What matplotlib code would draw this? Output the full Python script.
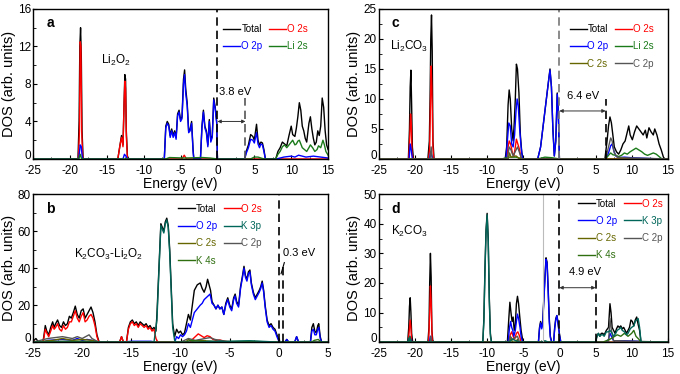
import matplotlib
matplotlib.use("Agg")
import matplotlib.pyplot as plt
import matplotlib.transforms as mtransforms
from matplotlib.ticker import AutoMinorLocator

plt.rcParams['font.family'] = ['Liberation Sans', 'DejaVu Sans']
plt.rcParams['mathtext.default'] = 'regular'
plt.rcParams['axes.unicode_minus'] = False

# ---- colours ----
COL = {'Total': 'black', 'O 2s': 'red', 'O 2p': 'blue', 'Li 2s': '#1a7a1a',
       'K 3p': '#00665a', 'C 2s': '#666600', 'C 2p': '#555555', 'K 4s': '#2f6f10'}

# ---- panel a: Li2O2 (energy, DOS) ----
A_TOTAL = [(-25, 0), (-18.9, 0), (-18.75, 4), (-18.65, 12), (-18.55, 14), (-18.45, 11), (-18.35, 3), (-18.2, 0),
           (-13.5, 0), (-13.2, 1.5), (-13.0, 2.5), (-12.8, 1.5), (-12.65, 6), (-12.55, 9), (-12.45, 8.5), (-12.35, 3), (-12.2, 0.3), (-12.0, 0),
           (-7.2, 0), (-7.0, 3.5), (-6.8, 4.0), (-6.6, 3.7), (-6.4, 2.5), (-6.2, 3.2), (-6.0, 2.5), (-5.8, 3.0), (-5.6, 2.3), (-5.4, 4.8),
           (-5.2, 5.2), (-5.0, 4.2), (-4.8, 4.5), (-4.6, 8.5), (-4.45, 9.5), (-4.3, 7.5), (-4.1, 6.0), (-3.9, 3.0), (-3.7, 3.2), (-3.5, 4.0),
           (-3.3, 1.0), (-3.2, 0), (-2.3, 0), (-2.1, 3.5), (-1.9, 5.2), (-1.7, 3.5), (-1.5, 3.0), (-1.3, 1.5), (-1.1, 4.2), (-0.9, 2.0),
           (-0.7, 2.5), (-0.5, 6.5), (-0.3, 5.5), (-0.1, 4.0), (0.0, 0),
           (3.7, 0), (3.9, 0.8), (4.2, 1.5), (4.5, 2.6), (4.8, 2.4), (5.0, 2.0), (5.3, 3.7), (5.5, 2.0), (5.7, 1.5), (5.9, 1.8), (6.1, 1.7),
           (6.3, 1.0), (6.5, 0), (7.9, 0), (8.2, 0.8), (8.5, 1.2), (8.8, 1.8), (9.1, 1.6), (9.4, 1.4), (9.7, 2.5), (10.0, 3.5), (10.2, 2.6),
           (10.5, 2.4), (10.7, 3.3), (10.9, 4.5), (11.1, 6.0), (11.3, 5.2), (11.5, 3.5), (11.7, 3.0), (11.9, 2.2), (12.1, 1.8), (12.4, 3.8),
           (12.6, 4.5), (12.8, 3.2), (13.0, 2.2), (13.2, 1.5), (13.4, 1.8), (13.6, 3.0), (13.8, 2.5), (14.0, 3.5), (14.2, 6.5), (14.4, 5.5),
           (14.6, 3.0), (14.8, 1.5), (15.0, 1.0)]
A_O2S = [(-25, 0), (-18.85, 0), (-18.7, 3), (-18.6, 12.5), (-18.5, 12), (-18.4, 3), (-18.25, 0), (-13.5, 0), (-13.2, 1.5),
         (-13.0, 2.3), (-12.8, 1.3), (-12.65, 6), (-12.55, 8.3), (-12.45, 7.5), (-12.35, 2.5), (-12.2, 0), (-4.8, 0), (-4.5, 0.4),
         (-4.2, 0), (15, 0)]
A_O2P = [(-25, 0), (-18.8, 0), (-18.6, 1.5), (-18.45, 1.3), (-18.3, 0), (-12.8, 0), (-12.6, 0.5), (-12.4, 0.3), (-12.2, 0),
         (-7.2, 0), (-7.0, 3.3), (-6.8, 3.8), (-6.6, 3.5), (-6.4, 2.3), (-6.2, 3.0), (-6.0, 2.3), (-5.8, 2.8), (-5.6, 2.1), (-5.4, 4.6),
         (-5.2, 5.0), (-5.0, 4.0), (-4.8, 4.3), (-4.6, 8.0), (-4.45, 9.0), (-4.3, 7.0), (-4.1, 5.7), (-3.9, 2.8), (-3.7, 3.0), (-3.5, 3.8),
         (-3.3, 0.8), (-3.2, 0), (-2.3, 0), (-2.1, 3.3), (-1.9, 5.0), (-1.7, 3.3), (-1.5, 2.8), (-1.3, 1.3), (-1.1, 4.0), (-0.9, 1.8),
         (-0.7, 2.3), (-0.5, 6.3), (-0.3, 5.3), (-0.1, 3.8), (0.0, 0),
         (3.7, 0), (3.9, 0.6), (4.2, 1.2), (4.5, 2.1), (4.8, 2.0), (5.0, 1.7), (5.3, 2.8), (5.5, 1.6), (5.7, 1.2), (5.9, 1.6), (6.1, 1.5),
         (6.3, 0.8), (6.5, 0), (8, 0), (9, 0.2), (10, 0.3), (10.5, 0.2), (11, 0.4), (12, 0.2), (13, 0.3), (14, 0.2), (15, 0.1)]
A_LI2S = [(-25, 0), (-18.8, 0), (-18.6, 0.5), (-18.4, 0), (-7, 0), (-6.5, 0.15), (-4.5, 0.1), (-2, 0.15), (-1, 0.1), (0, 0),
          (4.5, 0), (5, 0.2), (5.5, 0.2), (6.3, 0), (7.9, 0), (8.2, 0.5), (8.5, 0.8), (8.8, 1.3), (9.1, 1.5), (9.4, 1.2), (9.7, 1.5),
          (10.0, 1.8), (10.2, 2.0), (10.5, 1.5), (10.7, 1.6), (10.9, 1.9), (11.1, 2.0), (11.3, 1.6), (11.5, 1.2), (11.8, 1.0),
          (12.1, 0.8), (12.4, 1.2), (12.6, 1.5), (12.9, 1.2), (13.2, 0.8), (13.5, 1.0), (13.7, 1.4), (14.0, 1.2), (14.3, 2.0),
          (14.5, 1.5), (14.7, 0.8), (15.0, 0.4)]

# ---- panel c: Li2CO3 ----
C_TOTAL = [(-25, 0), (-20.9, 0), (-20.75, 5), (-20.65, 12), (-20.55, 14.8), (-20.45, 9), (-20.35, 2), (-20.2, 0),
           (-18.2, 0), (-18.0, 3), (-17.9, 10), (-17.8, 20), (-17.7, 24), (-17.6, 18), (-17.5, 3), (-17.35, 0),
           (-7.5, 0), (-7.3, 2), (-7.1, 9), (-6.95, 11.5), (-6.8, 10), (-6.6, 5), (-6.4, 3), (-6.25, 6), (-6.1, 10), (-5.95, 15.8),
           (-5.8, 15), (-5.6, 11), (-5.4, 4), (-5.2, 1), (-5.0, 0),
           (-3.0, 0), (-2.6, 2), (-2.3, 5), (-2.0, 8), (-1.7, 11), (-1.5, 13), (-1.3, 15), (-1.1, 12), (-0.9, 5), (-0.7, 0.5),
           (-0.5, 3), (-0.3, 11), (-0.15, 8), (0.0, 0),
           (6.3, 0), (6.6, 3), (6.8, 5.5), (7.0, 7.0), (7.2, 6), (7.4, 4), (7.6, 2), (7.9, 1.2), (8.2, 0.8), (8.5, 1.5), (8.8, 2.5),
           (9.1, 3), (9.4, 4.5), (9.6, 5.5), (9.8, 4.0), (10.1, 3.2), (10.4, 4.5), (10.7, 5.5), (11.0, 5.0), (11.3, 4.5), (11.6, 4.0),
           (11.9, 4.8), (12.1, 3.5), (12.4, 5.2), (12.7, 4.5), (13.0, 4.0), (13.2, 5.0), (13.5, 4.0), (13.8, 2.5), (14.1, 1.5),
           (14.4, 0.3), (14.6, 0), (15, 0)]
C_O2S = [(-25, 0), (-20.85, 0), (-20.7, 4), (-20.6, 7.5), (-20.5, 6), (-20.4, 1), (-20.25, 0), (-18.1, 0), (-17.95, 2),
         (-17.85, 9), (-17.75, 15.5), (-17.65, 12), (-17.5, 2), (-17.4, 0), (-7.3, 0), (-7.1, 2), (-6.95, 3.0), (-6.75, 2.5),
         (-6.5, 1), (-6.3, 0.5), (-6.1, 2), (-5.95, 3.3), (-5.75, 2.5), (-5.5, 1.5), (-5.3, 0), (15, 0)]
C_O2P = [(-25, 0), (-20.8, 0), (-20.65, 2.5), (-20.5, 1.5), (-20.35, 0), (-18, 0), (-17.8, 1.2), (-17.65, 0.5), (-17.5, 0),
         (-7.4, 0), (-7.2, 3), (-7.0, 6), (-6.8, 5.5), (-6.6, 2.5), (-6.4, 2.0), (-6.2, 4), (-6.0, 8), (-5.85, 10), (-5.7, 9),
         (-5.5, 5), (-5.3, 2), (-5.1, 0),
         (-3.0, 0), (-2.6, 2), (-2.3, 5), (-2.0, 8), (-1.7, 11), (-1.5, 13), (-1.3, 14.8), (-1.1, 12), (-0.9, 5), (-0.7, 0.5),
         (-0.5, 3), (-0.3, 10.8), (-0.15, 8), (0.0, 0),
         (6.4, 0), (6.8, 1.0), (7.1, 2.2), (7.3, 2.5), (7.5, 1.5), (7.8, 0.5), (8.2, 0.2), (9, 0.3), (10, 0.2), (12, 0.1), (14, 0), (15, 0)]
C_LI2S = [(-25, 0), (-8, 0), (-7, 0.3), (-6, 0.3), (-5, 0), (-3, 0), (-2, 0.3), (-1, 0.2), (0, 0),
          (6.4, 0), (6.8, 0.6), (7.1, 1.0), (7.4, 0.7), (7.8, 0.6), (8.2, 0.4), (8.6, 0.6), (9.0, 1.0), (9.4, 0.8), (9.8, 1.2),
          (10.2, 1.5), (10.6, 1.8), (11.0, 1.5), (11.4, 1.2), (11.8, 0.8), (12.2, 0.6), (12.6, 0.8), (13.0, 1.0), (13.4, 0.8),
          (13.8, 0.4), (14.2, 0), (15, 0)]
C_C2S = [(-25, 0), (-7.1, 0), (-6.9, 1), (-6.7, 0.3), (-6, 0.5), (-5.5, 0), (15, 0)]
C_C2P = [(-25, 0), (-17.9, 0), (-17.75, 2), (-17.6, 0), (-7.2, 0), (-6.95, 2), (-6.7, 1.5), (-6.4, 0.5), (-6.0, 1.5),
         (-5.8, 2), (-5.5, 1), (-5.2, 0), (6.4, 0), (6.8, 2), (7.1, 3.5), (7.3, 3), (7.6, 1), (8, 0.3), (9, 0.2), (15, 0)]

# ---- panel b: K2CO3-Li2O2 ----
B_TOTAL = [(-25, 0), (-24.9, 1), (-24.7, 2), (-24.5, 0.5), (-24.0, 0), (-23.9, 3), (-23.75, 9), (-23.6, 6), (-23.4, 4),
           (-23.2, 8), (-23.0, 11), (-22.85, 8), (-22.7, 10), (-22.5, 12), (-22.3, 9), (-22.1, 8), (-21.9, 11), (-21.7, 9),
           (-21.5, 10), (-21.3, 14), (-21.1, 13), (-20.9, 16), (-20.7, 19.5), (-20.5, 15), (-20.3, 13), (-20.1, 17), (-19.9, 18),
           (-19.7, 13), (-19.5, 15), (-19.3, 17), (-19.1, 19), (-18.9, 16), (-18.7, 11), (-18.5, 4), (-18.3, 0.5), (-18.1, 0),
           (-16.2, 0), (-16.0, 3), (-15.8, 0), (-15.5, 0), (-15.3, 8), (-15.1, 11), (-14.9, 12), (-14.7, 10), (-14.5, 11),
           (-14.3, 9), (-14.1, 11), (-13.9, 10), (-13.7, 9), (-13.5, 10), (-13.3, 8), (-13.1, 9), (-12.9, 7), (-12.7, 8),
           (-12.5, 6), (-12.4, 15), (-12.2, 40), (-12.0, 64), (-11.85, 62), (-11.7, 60), (-11.55, 65), (-11.4, 67), (-11.25, 63),
           (-11.1, 50), (-10.95, 30), (-10.8, 10), (-10.6, 3), (-10.4, 7), (-10.2, 5), (-10.0, 6), (-9.8, 4), (-9.6, 5),
           (-9.4, 10), (-9.2, 15), (-9.0, 12), (-8.8, 20), (-8.6, 28), (-8.3, 31), (-8.0, 32), (-7.8, 29), (-7.6, 27), (-7.4, 30),
           (-7.25, 34), (-7.1, 31), (-6.95, 28), (-6.8, 22), (-6.6, 20), (-6.4, 18), (-6.2, 20), (-6.0, 18), (-5.8, 19),
           (-5.6, 15), (-5.4, 21), (-5.2, 24), (-5.0, 20), (-4.8, 18), (-4.6, 24), (-4.45, 26), (-4.3, 22), (-4.1, 20),
           (-3.9, 30), (-3.7, 36), (-3.55, 41), (-3.4, 36), (-3.25, 34), (-3.1, 38), (-2.95, 39), (-2.8, 32), (-2.6, 27),
           (-2.4, 24), (-2.2, 26), (-2.0, 28), (-1.85, 30), (-1.7, 33), (-1.55, 28), (-1.4, 20), (-1.2, 12), (-1.0, 9),
           (-0.8, 10), (-0.6, 8), (-0.4, 7), (-0.2, 4), (0.0, 1), (0.2, 0), (0.6, 0), (0.8, 1.5), (1.0, 0), (1.6, 0), (1.8, 3),
           (2.0, 0), (3.2, 0), (3.35, 8), (3.5, 10), (3.65, 6), (3.8, 5), (3.95, 9), (4.05, 10), (4.2, 3), (4.35, 0), (5, 0)]
B_O2S = [(-25, 0), (-24.9, 0.5), (-24.5, 0), (-24.0, 0), (-23.9, 2), (-23.75, 7), (-23.6, 5), (-23.4, 3), (-23.2, 6),
         (-23.0, 9), (-22.85, 7), (-22.7, 8), (-22.5, 10), (-22.3, 7), (-22.1, 6), (-21.9, 9), (-21.7, 7), (-21.5, 8),
         (-21.3, 11), (-21.1, 11), (-20.9, 14), (-20.7, 17), (-20.5, 13), (-20.3, 11), (-20.1, 14), (-19.9, 16), (-19.7, 11),
         (-19.5, 12), (-19.3, 14), (-19.1, 15), (-18.9, 13), (-18.7, 9), (-18.5, 3), (-18.3, 0), (-16.2, 0), (-16.0, 3),
         (-15.8, 0), (-15.5, 0), (-15.3, 7), (-15.1, 10), (-14.9, 11), (-14.7, 9), (-14.5, 10), (-14.3, 8), (-14.1, 10),
         (-13.9, 9), (-13.7, 8), (-13.5, 9), (-13.3, 7), (-13.1, 8), (-12.9, 6), (-12.7, 7), (-12.5, 2), (-12.3, 0),
         (-9.0, 0), (-8.8, 1.5), (-8.5, 3), (-8.2, 4.5), (-7.9, 3.5), (-7.6, 2.5), (-7.3, 3.5), (-7.0, 3.0), (-6.7, 1.5),
         (-6.4, 1.0), (-6.0, 1.2), (-5.5, 0.5), (-5, 0.3), (-4.5, 0), (5, 0)]
B_O2P = [(-25, 0), (-24, 0), (-23.5, 1), (-22, 1.5), (-21, 1), (-20.5, 2), (-20, 1), (-19.5, 1.5), (-19, 1), (-18.4, 0),
         (-16, 0), (-15, 0.5), (-13, 0.5), (-12.5, 0), (-10.6, 0), (-10.4, 3), (-10.2, 2), (-10.0, 4), (-9.8, 3), (-9.6, 4),
         (-9.4, 6), (-9.2, 10), (-9.0, 8), (-8.8, 12), (-8.6, 16), (-8.3, 18), (-8.0, 20), (-7.8, 21), (-7.6, 23), (-7.4, 24),
         (-7.2, 25), (-7.0, 26), (-6.8, 21), (-6.6, 20), (-6.4, 18), (-6.2, 20), (-6.0, 18), (-5.8, 19), (-5.6, 15), (-5.4, 20),
         (-5.2, 23), (-5.0, 19), (-4.8, 17), (-4.6, 23), (-4.45, 25), (-4.3, 21), (-4.1, 19), (-3.9, 29), (-3.7, 35),
         (-3.55, 40), (-3.4, 35), (-3.25, 33), (-3.1, 37), (-2.95, 38), (-2.8, 31), (-2.6, 26), (-2.4, 23), (-2.2, 25),
         (-2.0, 27), (-1.85, 29), (-1.7, 32), (-1.55, 27), (-1.4, 19), (-1.2, 11), (-1.0, 8), (-0.8, 9), (-0.6, 7), (-0.4, 6),
         (-0.2, 3), (0.0, 0.5), (0.2, 0), (0.6, 0), (0.8, 1.5), (1.0, 0), (1.6, 0), (1.8, 3), (2.0, 0), (3.2, 0), (3.35, 6),
         (3.5, 7), (3.65, 4), (3.8, 4), (3.95, 7), (4.05, 8), (4.2, 2), (4.35, 0), (5, 0)]
B_K3P = [(-25, 0), (-12.7, 0), (-12.4, 12), (-12.2, 38), (-12.0, 63), (-11.85, 61), (-11.7, 59), (-11.55, 64), (-11.4, 66),
         (-11.25, 62), (-11.1, 48), (-10.95, 28), (-10.8, 8), (-10.6, 1), (-10.4, 0), (-8, 0), (-7, 0.5), (-5, 0.5), (-3, 0.8),
         (-1, 0.3), (0, 0), (5, 0)]
B_C2S = [(-25, 0), (-23, 1), (-22, 2), (-21, 1), (-20, 1.5), (-19, 1), (-18.3, 0), (-9.5, 0), (-9.2, 1.5), (-8.8, 0.5),
         (-8, 1), (-7, 0.5), (-6, 0), (5, 0)]
B_C2P = [(-25, 0), (-23.5, 2), (-22, 3), (-21, 2), (-20.5, 3), (-20, 2), (-19.3, 4), (-19, 2), (-18.3, 0), (-10, 0),
         (-9.2, 2), (-8.5, 1), (-7.5, 2), (-7, 2.5), (-6.5, 1.5), (-6, 1), (-5.5, 0.5), (-5, 0), (5, 0)]
B_K4S = [(-25, 0), (-22, 0.5), (-20, 0.5), (-18.3, 0), (-9.5, 0), (-9, 1), (-8, 0.5), (-6, 0.3), (-3, 0.5), (0, 0),
         (3.3, 0), (3.6, 1), (4, 1.5), (4.3, 0), (5, 0)]

# ---- panel d: K2CO3 ----
D_TOTAL = [(-25, 0), (-21.0, 0), (-20.85, 5), (-20.75, 12), (-20.65, 15), (-20.55, 10), (-20.45, 3), (-20.3, 0),
           (-18.2, 0), (-18.05, 5), (-17.95, 20), (-17.85, 30), (-17.75, 22), (-17.65, 4), (-17.5, 0),
           (-10.6, 0), (-10.45, 8), (-10.3, 25), (-10.15, 38), (-10.0, 43.5), (-9.85, 35), (-9.7, 15), (-9.55, 3), (-9.4, 0),
           (-7.2, 0), (-7.0, 8), (-6.85, 13.5), (-6.7, 10), (-6.55, 7), (-6.4, 8.5), (-6.25, 4), (-6.1, 6), (-5.95, 13),
           (-5.8, 15.5), (-5.65, 13), (-5.5, 9), (-5.3, 4), (-5.1, 1), (-5.0, 0),
           (-2.9, 0), (-2.75, 5), (-2.6, 7), (-2.45, 5), (-2.3, 7), (-2.15, 15), (-2.0, 22), (-1.85, 28.5), (-1.7, 27),
           (-1.55, 18), (-1.4, 8), (-1.25, 2), (-1.05, 0), (-0.8, 0), (-0.65, 5), (-0.5, 8), (-0.35, 9), (-0.2, 7), (0.0, 3),
           (0.2, 0), (5.0, 0), (5.2, 2), (5.4, 3), (5.6, 2), (5.8, 3), (6.0, 3), (6.2, 2.5), (6.5, 4), (6.8, 5), (7.0, 13),
           (7.15, 10), (7.3, 5), (7.5, 4), (7.7, 3), (7.9, 4.5), (8.1, 5.5), (8.3, 5), (8.5, 5.5), (8.7, 4.5), (8.9, 5),
           (9.1, 4), (9.3, 3), (9.5, 4), (9.7, 5), (9.9, 7.5), (10.1, 7), (10.3, 5.5), (10.5, 7.5), (10.7, 8.5), (10.9, 6),
           (11.1, 4), (11.3, 0), (15, 0)]
D_O2S = [(-25, 0), (-20.9, 0), (-20.75, 5), (-20.65, 7.5), (-20.55, 5), (-20.45, 0), (-18.1, 0), (-17.95, 10),
         (-17.85, 19), (-17.75, 14), (-17.6, 0), (-7.0, 0), (-6.8, 2.5), (-6.6, 3.5), (-6.4, 2), (-6.2, 1), (-5.95, 3),
         (-5.75, 3.5), (-5.5, 2), (-5.3, 0), (15, 0)]
D_O2P = [(-25, 0), (-20.85, 0), (-20.7, 2), (-20.55, 1), (-20.4, 0), (-18.0, 0), (-17.85, 2), (-17.7, 0), (-7.1, 0),
         (-6.9, 5), (-6.75, 7), (-6.6, 5), (-6.45, 4), (-6.3, 2), (-6.1, 4), (-5.95, 7), (-5.8, 9.5), (-5.65, 8), (-5.45, 5),
         (-5.3, 2), (-5.1, 0), (-2.9, 0), (-2.75, 4.5), (-2.6, 6.5), (-2.45, 4.5), (-2.3, 6.5), (-2.15, 14), (-2.0, 21),
         (-1.85, 28), (-1.7, 26.5), (-1.55, 17), (-1.4, 7), (-1.25, 1.5), (-1.05, 0), (-0.8, 0), (-0.65, 4.5), (-0.5, 7.5),
         (-0.35, 9), (-0.2, 6.5), (0.0, 2.5), (0.2, 0), (6.5, 0), (6.8, 1), (7.0, 3), (7.2, 2), (7.5, 0.5), (9, 0.5),
         (11, 0.3), (11.3, 0), (15, 0)]
D_K3P = [(-25, 0), (-21, 0), (-20.8, 1.5), (-20.6, 0), (-10.6, 0), (-10.45, 7), (-10.3, 24), (-10.15, 37), (-10.0, 43),
         (-9.85, 34), (-9.7, 14), (-9.55, 2), (-9.4, 0), (-7, 0), (-6.5, 1), (-6, 0.5), (-5.5, 0), (-2.5, 0), (-2, 0.5),
         (-1.5, 0), (5.0, 0), (5.2, 2), (5.4, 3), (5.6, 2), (5.8, 2.5), (6.0, 2.5), (6.2, 2), (6.5, 3.5), (6.8, 3.5), (7.0, 4),
         (7.3, 3), (7.5, 2), (7.8, 3), (8.0, 4), (8.3, 4.5), (8.5, 5), (8.7, 4), (9.0, 3.5), (9.3, 2.5), (9.5, 3), (9.8, 4.5),
         (10.0, 5), (10.3, 5.5), (10.5, 7), (10.7, 7.5), (10.9, 8), (11.1, 5), (11.3, 0), (15, 0)]
D_C2S = [(-25, 0), (-6.9, 0), (-6.7, 1.5), (-6.5, 0), (-6, 0), (-5.8, 1), (-5.6, 0), (15, 0)]
D_C2P = [(-25, 0), (-17.9, 0), (-17.8, 2), (-17.7, 0), (-7, 0), (-6.8, 2), (-6.5, 1), (-5.8, 2), (-5.5, 0), (6.8, 0),
         (7.0, 8), (7.2, 4), (7.5, 0.5), (8, 0.5), (15, 0)]
D_K4S = [(-25, 0), (-20.8, 0), (-20.7, 2), (-20.5, 0), (6, 0), (7, 1), (8, 2.5), (8.5, 2), (9, 3), (9.5, 2), (10, 3),
         (10.3, 4), (10.6, 2), (11, 1), (11.3, 0), (15, 0)]

# band gaps and labels
GAP_LABELS = {'a': '3.8 eV', 'c': '6.4 eV', 'b': '0.3 eV', 'd': '4.9 eV'}

PANELS = [
    dict(tag='a', name='Li$_2$O$_2$', name_xy=(-15.8, 10.5), xlim=(-25, 15), ylim=(0, 16), yticks=[0, 4, 8, 12, 16],
         curves=[('Total', A_TOTAL), ('O 2s', A_O2S), ('O 2p', A_O2P), ('Li 2s', A_LI2S)],
         order=['Total', 'O 2p', 'O 2s', 'Li 2s'], leg=(0.645, 0.9),
         gap=3.8, gap_top=6.5, arrow_y=4.0, gap_txt=(0.2, 6.6), zero_col='black', gap_col='#555555'),
    dict(tag='c', name='Li$_2$CO$_3$', name_xy=(-23.5, 18.7), xlim=(-25, 15), ylim=(0, 25), yticks=[0, 5, 10, 15, 20, 25],
         curves=[('Total', C_TOTAL), ('O 2s', C_O2S), ('O 2p', C_O2P), ('Li 2s', C_LI2S), ('C 2s', C_C2S), ('C 2p', C_C2P)],
         order=['Total', 'O 2p', 'C 2s', 'O 2s', 'Li 2s', 'C 2p'], leg=(0.66, 0.9),
         gap=6.4, gap_top=10.0, arrow_y=8.0, gap_txt=(1.1, 9.6), zero_col='#777777', gap_col='black'),
    dict(tag='b', name='K$_2$CO$_3$-Li$_2$O$_2$', name_xy=(-20.8, 47.5), xlim=(-25, 5), ylim=(0, 80), yticks=[0, 20, 40, 60, 80],
         curves=[('Total', B_TOTAL), ('O 2s', B_O2S), ('O 2p', B_O2P), ('C 2s', B_C2S), ('C 2p', B_C2P), ('K 4s', B_K4S),
                 ('K 3p', B_K3P)],
         order=['Total', 'O 2p', 'C 2s', 'K 4s', 'O 2s', 'K 3p', 'C 2p'], leg=(0.49, 0.935),
         gap=0.4, gap_top=42, arrow_y=None, gap_txt=(0.42, 45.5), zero_col='black', gap_col='black'),
    dict(tag='d', name='K$_2$CO$_3$', name_xy=(-23.3, 37.5), xlim=(-25, 15), ylim=(0, 50), yticks=[0, 10, 20, 30, 40, 50],
         curves=[('Total', D_TOTAL), ('O 2s', D_O2S), ('O 2p', D_O2P), ('C 2s', D_C2S), ('C 2p', D_C2P), ('K 4s', D_K4S),
                 ('K 3p', D_K3P)],
         order=['Total', 'O 2p', 'C 2s', 'K 4s', 'O 2s', 'K 3p', 'C 2p'], leg=(0.69, 0.97),
         gap=5.0, gap_top=21.4, arrow_y=18.4, gap_txt=(1.36, 22.0), zero_col='black', gap_col='black'),
]
RECTS = {'a': [0.0485, 0.575, 0.434, 0.401], 'c': [0.557, 0.575, 0.425, 0.401],
         'b': [0.0485, 0.085, 0.434, 0.396], 'd': [0.557, 0.085, 0.425, 0.396]}

fig = plt.figure(figsize=(6.8, 3.74), dpi=100)
for P in PANELS:
    ax = fig.add_axes(RECTS[P['tag']])
    handles = {}
    for lab, pts in P['curves']:
        e = [p[0] for p in pts]
        d = [p[1] for p in pts]
        handles[lab], = ax.plot(e, d, color=COL[lab], lw=1.0, label=lab)
    if P['tag'] == 'd':
        ax.axvline(-2.3, color='#bbbbbb', lw=0.8)
    ax.axvline(0, color=P['zero_col'], lw=1.2, ls=(0, (5, 3)))
    ax.plot([P['gap'], P['gap']], [0, P['gap_top']], color=P['gap_col'], lw=1.2, ls=(0, (5, 3)))
    if P['arrow_y'] is not None:
        ax.annotate('', xy=(0, P['arrow_y']), xytext=(P['gap'], P['arrow_y']),
                    arrowprops=dict(arrowstyle='<|-|>', color='#333333', lw=0.7, mutation_scale=5,
                                    shrinkA=0, shrinkB=0))
    else:
        ax.plot([0.22, 0.55], [37, 43], color='black', lw=0.8)
    ax.text(P['gap_txt'][0], P['gap_txt'][1], GAP_LABELS[P['tag']], fontsize=8, va='bottom', ha='left')
    ax.text(*P['name_xy'], P['name'], fontsize=8.5, va='center', ha='left')
    ax.text(0.045, 0.95, P['tag'], transform=ax.transAxes, fontsize=10, fontweight='bold', va='top', ha='left')
    ax.set_xlim(*P['xlim'])
    ax.set_ylim(*P['ylim'])
    ax.set_yticks(P['yticks'])
    ax.set_xticks(range(P['xlim'][0], P['xlim'][1] + 1, 5))
    ax.xaxis.set_minor_locator(AutoMinorLocator(2))
    ax.yaxis.set_minor_locator(AutoMinorLocator(2))
    ax.tick_params(which='major', direction='in', length=3, width=0.8, labelsize=8.5, pad=1.5)
    ax.tick_params(which='minor', direction='in', length=1.8, width=0.6)
    ax.tick_params(axis='x', which='major', pad=4)
    # lift the "0" on the y axis a little, like the original, so it clears "-25"
    lbl0 = ax.get_yticklabels()[0]
    lbl0.set_transform(lbl0.get_transform() + mtransforms.ScaledTranslation(0, 3.5 / 72, fig.dpi_scale_trans))
    for s in ax.spines.values():
        s.set_linewidth(1.0)
    ax.set_xlabel('Energy (eV)', fontsize=10, labelpad=0)
    ax.set_ylabel('DOS (arb. units)', fontsize=10.5, labelpad=1.5)
    ax.legend([handles[k] for k in P['order']], P['order'], loc='upper left', bbox_to_anchor=P['leg'],
              ncol=2, frameon=False, fontsize=7, handlelength=1.75, handletextpad=0.1, columnspacing=0.7,
              labelspacing=0.75, borderpad=0, borderaxespad=0, labelcolor='linecolor')

fig.savefig('out.png', dpi=100)
